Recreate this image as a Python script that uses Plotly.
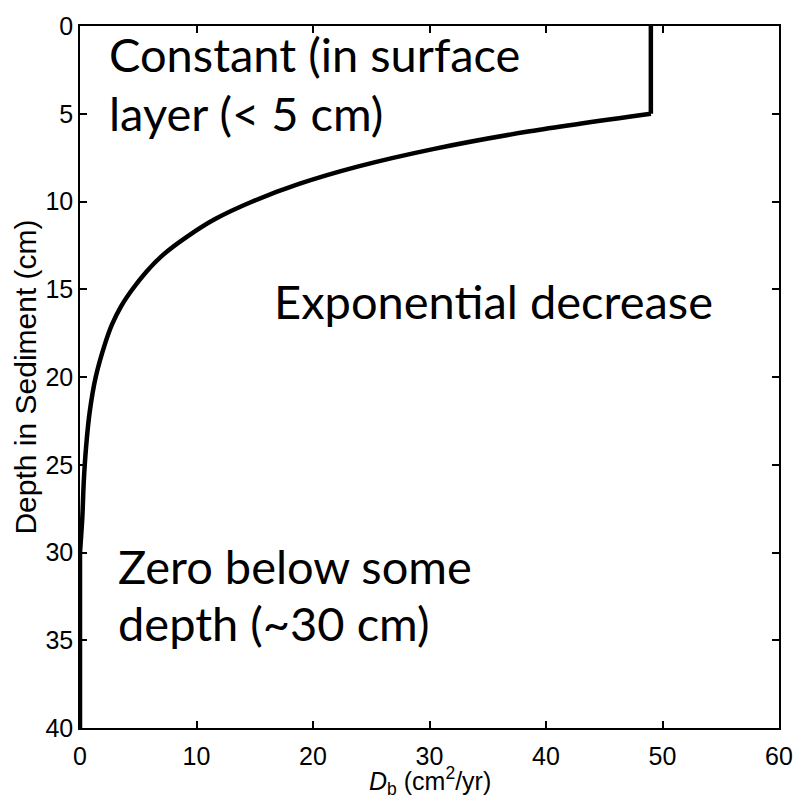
import plotly.graph_objects as go

# Biodiffusion coefficient profile read along the sediment column
# Surface mixed layer: constant D_b
surf_depth = [0, 5]
surf_db = [49, 49]
# Exponential decrease below the mixed layer
exp_depth = [5, 6, 7, 8, 9, 10, 11, 12, 13, 14, 15, 16, 17, 18, 20, 22, 24, 26, 28, 30]
exp_db = [49, 38.6, 30.4, 23.9, 18.8, 14.8, 11.6, 9.2, 7.2, 5.7, 4.5, 3.5, 2.75, 2.2,
          1.35, 0.83, 0.52, 0.32, 0.2, 0]
# No mixing below ~30 cm
deep_depth = [30, 40]
deep_db = [0, 0]

x_ticks = [0, 10, 20, 30, 40, 50, 60]
y_ticks = [0, 5, 10, 15, 20, 25, 30, 35, 40]

# Text notes placed in data coordinates (D_b, depth)
note_text = ["Constant (in surface", "layer (< 5 cm)", "Exponential decrease",
             "Zero below some", "depth (~30 cm)"]
note_x = [2.3, 2.3, 16.5, 3.05, 3.05]
note_y = [1.62, 4.95, 15.68, 30.78, 34.0]

fig = go.Figure()
line_style = dict(color="black", width=4.5)
fig.add_trace(go.Scatter(x=surf_db, y=surf_depth, mode="lines", line=line_style,
                         hoverinfo="skip", showlegend=False))
fig.add_trace(go.Scatter(x=exp_db, y=exp_depth, mode="lines",
                         line=dict(line_style, shape="spline", smoothing=0.8),
                         hoverinfo="skip", showlegend=False))
fig.add_trace(go.Scatter(x=deep_db, y=deep_depth, mode="lines", line=line_style,
                         hoverinfo="skip", showlegend=False))

for t, x, y in zip(note_text, note_x, note_y):
    fig.add_annotation(
        x=x, y=y, xref="x", yref="y", text=t, showarrow=False,
        xanchor="left", yanchor="middle", align="left",
        font=dict(family="Lato, 'Open Sans', sans-serif", size=47, color="black"),
    )

label_font = dict(family="'Liberation Sans', Arial, sans-serif", size=25, color="black")

# x-axis title sits just under the tick labels
fig.add_annotation(
    x=0.5, y=-0.076, xref="paper", yref="paper", showarrow=False,
    xanchor="center", yanchor="middle",
    text="<i>D</i><sub>b</sub> (cm<sup>2</sup>/yr)", font=label_font,
)

axis_common = dict(
    showline=True, linecolor="black", linewidth=1.6, mirror="ticks",
    ticks="inside", ticklen=7, tickwidth=1.5, tickcolor="black",
    showgrid=False, zeroline=False, tickfont=label_font,
)

fig.update_layout(
    width=807, height=809,
    margin=dict(l=80, r=28, t=19, b=81),
    paper_bgcolor="white", plot_bgcolor="white",
    xaxis=dict(range=[0, 60], tickvals=x_ticks, ticktext=[str(v) for v in x_ticks],
               ticklabelstandoff=5, **axis_common),
    yaxis=dict(range=[40, 0], tickvals=y_ticks, ticktext=[str(v) for v in y_ticks],
               title=dict(text="Depth in Sediment (cm)",
                          font=dict(family="'Liberation Sans', Arial, sans-serif",
                                    size=30, color="black"),
                          standoff=0),
               **axis_common),
)

fig.write_html("out.html")
